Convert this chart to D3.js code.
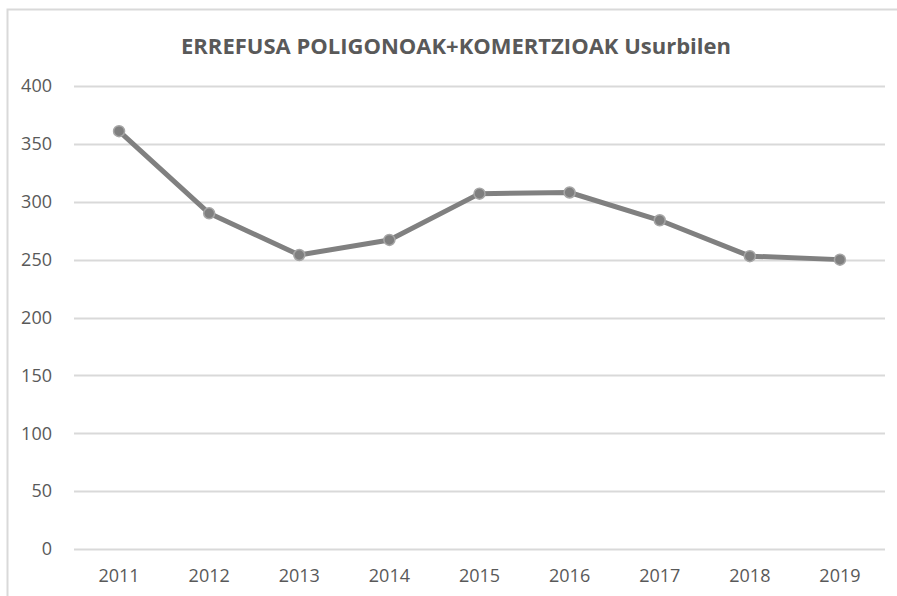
<!DOCTYPE html>
<html>
<head>
<meta charset="utf-8">
<script src="https://cdn.jsdelivr.net/npm/d3@7"></script>
<style>
  body { margin: 0; background: #fff; overflow: hidden; }
  svg text { font-family: "Open Sans", "Liberation Sans", sans-serif; }
</style>
</head>
<body>
<div id="chart"></div>
<script>
const years = ["2011", "2012", "2013", "2014", "2015", "2016", "2017", "2018", "2019"];
const values = [361, 290, 254, 267, 307, 308, 284, 253, 250];
const yTicks = [0, 50, 100, 150, 200, 250, 300, 350, 400];
const chartTitle = "ERREFUSA POLIGONOAK+KOMERTZIOAK Usurbilen";

const dimensions = {
    width: 897,
    height: 596,
    margin: { left: 74, right: 12, top: 86, bottom: 47 },
};
dimensions.boundedWidth = dimensions.width - dimensions.margin.left - dimensions.margin.right;
dimensions.boundedHeight = dimensions.height - dimensions.margin.top - dimensions.margin.bottom;

const wrapper = d3.select("#chart").append("svg")
    .attr("width", dimensions.width)
    .attr("height", dimensions.height)
    .style("display", "block");

// chart frame: only the top and left edges fall inside the picture
wrapper.append("path")
    .attr("d", `M7.5,${dimensions.height} V9.5 H${dimensions.width}`)
    .attr("fill", "none")
    .attr("stroke", "#d9d9d9")
    .attr("stroke-width", 2);

wrapper.append("text")
    .attr("x", 456)
    .attr("y", 54)
    .attr("text-anchor", "middle")
    .attr("font-size", "22px")
    .attr("font-weight", "bold")
    .attr("fill", "#595959")
    .text(chartTitle);

const bounds = wrapper.append("g")
    .attr("transform", `translate(${dimensions.margin.left},${dimensions.margin.top})`);

const xScaler = d3.scaleBand()
    .domain(years)
    .range([0, dimensions.boundedWidth]);

const yScaler = d3.scaleLinear()
    .domain([0, 400])
    .range([dimensions.boundedHeight, 0]);

// gridlines
bounds.append("g")
    .selectAll("line")
    .data(yTicks)
    .enter()
    .append("line")
    .attr("x1", 0)
    .attr("x2", dimensions.boundedWidth)
    .attr("y1", d => Math.round(yScaler(d)) + 0.5)
    .attr("y2", d => Math.round(yScaler(d)) + 0.5)
    .attr("stroke", "#d9d9d9")
    .attr("stroke-width", 2);

const yAxisGen = d3.axisLeft(yScaler).tickValues(yTicks).tickSize(0).tickPadding(22);
const yAxis = bounds.append("g").call(yAxisGen);
yAxis.select(".domain").remove();
yAxis.selectAll("text")
    .attr("font-size", "18px")
    .attr("fill", "#595959")
    .attr("font-family", "\"Open Sans\", sans-serif");

const xAxisGen = d3.axisBottom(xScaler).tickSize(0).tickPadding(20);
const xAxis = bounds.append("g")
    .attr("transform", `translate(0,${dimensions.boundedHeight})`)
    .call(xAxisGen);
xAxis.select(".domain").remove();
xAxis.selectAll("text")
    .attr("font-size", "18px")
    .attr("fill", "#595959")
    .attr("font-family", "\"Open Sans\", sans-serif");

const xCenter = (d, i) => xScaler(years[i]) + xScaler.bandwidth() / 2;

const lineGen = d3.line()
    .x(xCenter)
    .y(d => yScaler(d));

bounds.append("path")
    .datum(values)
    .attr("d", lineGen)
    .attr("fill", "none")
    .attr("stroke", "#808080")
    .attr("stroke-width", 5)
    .attr("stroke-linejoin", "round");

bounds.append("g")
    .selectAll("circle")
    .data(values)
    .enter()
    .append("circle")
    .attr("cx", xCenter)
    .attr("cy", d => yScaler(d))
    .attr("r", 5.5)
    .attr("fill", "#7f7f7f")
    .attr("stroke", "#a6a6a6")
    .attr("stroke-width", 1.5);
</script>
</body>
</html>
